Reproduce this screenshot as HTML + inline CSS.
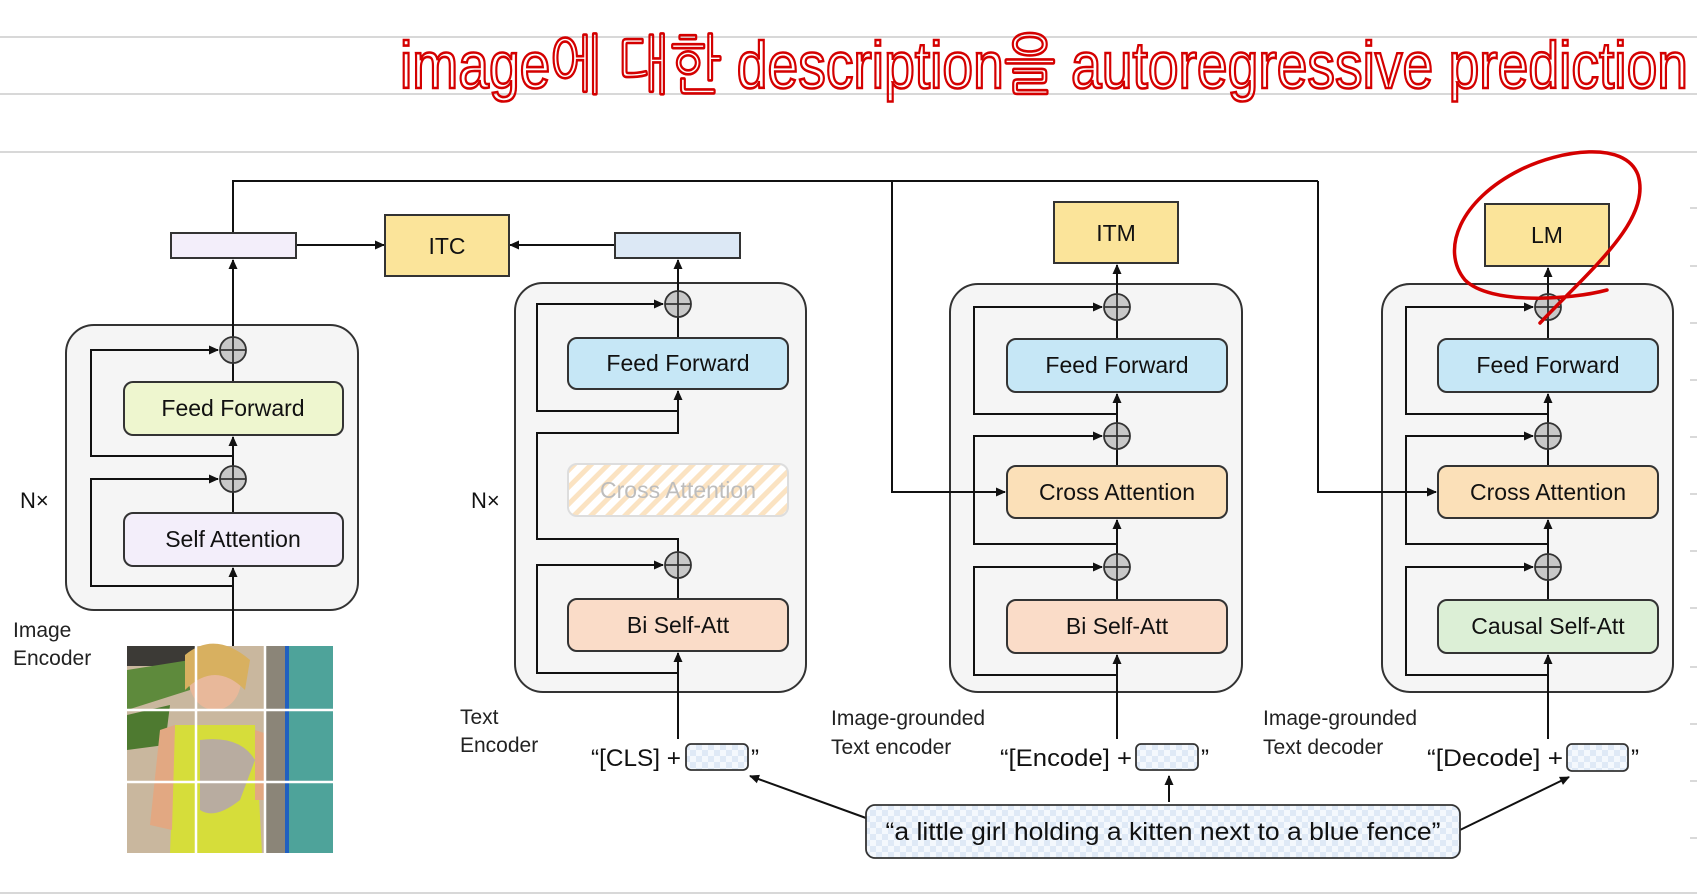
<!DOCTYPE html>
<html><head><meta charset="utf-8"><style>
html,body{margin:0;padding:0;background:#fff;}
svg{display:block;}
text{font-family:"Liberation Sans","DejaVu Sans",sans-serif;}
</style></head><body>
<svg width="1697" height="895" viewBox="0 0 1697 895" xmlns="http://www.w3.org/2000/svg">
<defs>
<marker id="a" markerWidth="10" markerHeight="10" refX="9" refY="5" orient="auto" markerUnits="userSpaceOnUse">
<path d="M0,0.5 L10,5 L0,9.5 z" fill="#111"/></marker>
<pattern id="chk" width="12" height="12" patternUnits="userSpaceOnUse">
<rect width="12" height="12" fill="#f4f8fd"/><rect width="6" height="6" fill="#dfe9f6"/><rect x="6" y="6" width="6" height="6" fill="#dfe9f6"/></pattern>
<pattern id="hat" width="12" height="12" patternUnits="userSpaceOnUse" patternTransform="rotate(45)">
<rect width="12" height="12" fill="#fff"/><rect width="5" height="12" fill="#fbe3c2"/></pattern>
<g id="plus"><circle r="13" fill="#c8c8c8" stroke="#333" stroke-width="1.8"/><path d="M-13,0H13M0,-13V13" stroke="#333" stroke-width="1.8"/></g>
</defs>

<!-- notebook lines -->
<g stroke="#d8d8d8" stroke-width="2">
<line x1="0" y1="37" x2="1697" y2="37"/><line x1="0" y1="94" x2="1697" y2="94"/><line x1="0" y1="152" x2="1697" y2="152"/><line x1="0" y1="893" x2="1697" y2="893"/>
</g>
<g stroke="#ccc" stroke-width="1.5">
<line x1="1690" y1="208" x2="1697" y2="208"/><line x1="1690" y1="266" x2="1697" y2="266"/><line x1="1690" y1="323" x2="1697" y2="323"/><line x1="1690" y1="380" x2="1697" y2="380"/><line x1="1690" y1="437" x2="1697" y2="437"/><line x1="1690" y1="494" x2="1697" y2="494"/><line x1="1690" y1="551" x2="1697" y2="551"/><line x1="1690" y1="608" x2="1697" y2="608"/><line x1="1690" y1="667" x2="1697" y2="667"/><line x1="1690" y1="724" x2="1697" y2="724"/><line x1="1690" y1="781" x2="1697" y2="781"/><line x1="1690" y1="838" x2="1697" y2="838"/>
</g>

<!-- handwriting -->
<text x="400" y="88" font-size="66" fill="none" stroke="#d40000" stroke-width="2.6" textLength="1288" lengthAdjust="spacingAndGlyphs" style="font-family:'Liberation Sans','NanumGothic',sans-serif">image에 대한 description을 autoregressive prediction</text>

<!-- top connector lines -->
<g fill="none" stroke="#111" stroke-width="2">
<path d="M233,233V181H1318"/>
<path d="M296,245H384" marker-end="url(#a)"/>
<path d="M615,245H510" marker-end="url(#a)"/>
</g>

<!-- ITC & small boxes -->
<rect x="171" y="233" width="125" height="25" fill="#f3eefa" stroke="#333" stroke-width="2"/>
<rect x="615" y="233" width="125" height="25" fill="#dce8f5" stroke="#333" stroke-width="2"/>
<rect x="385" y="215" width="124" height="61" fill="#fbe49a" stroke="#333" stroke-width="2"/>
<text x="447" y="254" font-size="23" text-anchor="middle" fill="#111">ITC</text>
<rect x="1054" y="202" width="124" height="61" fill="#fbe49a" stroke="#333" stroke-width="2"/>
<text x="1116" y="241" font-size="23" text-anchor="middle" fill="#111">ITM</text>
<rect x="1485" y="204" width="124" height="62" fill="#fbe49a" stroke="#333" stroke-width="2"/>
<text x="1547" y="243" font-size="23" text-anchor="middle" fill="#111">LM</text>

<!-- containers -->
<g fill="#f5f5f5" stroke="#333" stroke-width="2">
<rect x="66" y="325" width="292" height="285" rx="28"/>
<rect x="515" y="283" width="291" height="409" rx="28"/>
<rect x="950" y="284" width="292" height="408" rx="28"/>
<rect x="1382" y="284" width="291" height="408" rx="28"/>
</g>

<!-- cross attention feeds -->
<g fill="none" stroke="#111" stroke-width="2">
<path d="M1318,181V492H1436" marker-end="url(#a)"/>
<path d="M892,181V492H1005" marker-end="url(#a)"/>
</g>

<!-- Image encoder -->
<g fill="none" stroke="#111" stroke-width="2">
<path d="M233,716V568" marker-end="url(#a)"/>
<path d="M233,586H91V479H218" marker-end="url(#a)"/>
<path d="M233,456H91V350H218" marker-end="url(#a)"/>
<path d="M233,513V492"/><path d="M233,466V437" marker-end="url(#a)"/>
<path d="M233,382V363"/><path d="M233,337V260" marker-end="url(#a)"/>
</g>
<rect x="124" y="382" width="219" height="53" rx="9" fill="#eef6cf" stroke="#333" stroke-width="2"/>
<text x="233" y="416" font-size="23" text-anchor="middle" fill="#111">Feed Forward</text>
<rect x="124" y="513" width="219" height="53" rx="9" fill="#f3eefa" stroke="#333" stroke-width="2"/>
<text x="233" y="547" font-size="23" text-anchor="middle" fill="#111">Self Attention</text>
<use href="#plus" x="233" y="350"/><use href="#plus" x="233" y="479"/>
<text x="20" y="508" font-size="22" fill="#111">N×</text>
<text x="13" y="637" font-size="21" fill="#222">Image</text>
<text x="13" y="665" font-size="21" fill="#222">Encoder</text>

<!-- photo -->
<g>
<rect x="127" y="646" width="206" height="207" fill="#c9b79e"/>
<rect x="127" y="646" width="70" height="20" fill="#3c3a36"/>
<path d="M127,670 L190,660 L190,690 L127,710z" fill="#5e8a3c"/>
<path d="M127,715 L170,705 L165,745 L127,750z" fill="#4e7a30"/>
<ellipse cx="215" cy="680" rx="26" ry="30" fill="#e8b89a"/>
<path d="M185,655 Q215,630 250,660 L245,690 Q215,660 185,690z" fill="#d8b060"/>
<path d="M175,725 L255,725 L262,853 L170,853z" fill="#d6dd3a"/>
<path d="M160,730 L175,725 L172,830 L150,825z" fill="#e2a882"/>
<path d="M255,730 L270,735 L268,800 L255,800z" fill="#e2a882"/>
<path d="M200,740 Q240,735 255,760 L240,800 Q215,820 200,810z" fill="#b8aca0"/>
<rect x="265" y="646" width="22" height="207" fill="#8b8578"/>
<rect x="285" y="646" width="48" height="207" fill="#4ea39a"/>
<rect x="285" y="646" width="4" height="207" fill="#2060c0"/>
<g stroke="#fff" stroke-width="2.5"><line x1="196" y1="646" x2="196" y2="853"/><line x1="265" y1="646" x2="265" y2="853"/><line x1="127" y1="710" x2="333" y2="710"/><line x1="127" y1="782" x2="333" y2="782"/></g>
</g>

<!-- Text encoder -->
<g fill="none" stroke="#111" stroke-width="2">
<path d="M678,739V653" marker-end="url(#a)"/>
<path d="M678,673H537V565H663" marker-end="url(#a)"/>
<path d="M678,599V578"/>
<path d="M678,552V539H537V433H678V391" marker-end="url(#a)"/>
<path d="M678,411H537V304H663" marker-end="url(#a)"/>
<path d="M678,338V317"/><path d="M678,291V260" marker-end="url(#a)"/>
</g>
<rect x="568" y="338" width="220" height="51" rx="9" fill="#c6e7f6" stroke="#333" stroke-width="2"/>
<text x="678" y="371" font-size="23" text-anchor="middle" fill="#111">Feed Forward</text>
<rect x="568" y="464" width="220" height="52" rx="9" fill="url(#hat)" stroke="#ddd" stroke-width="2"/>
<text x="678" y="498" font-size="23" text-anchor="middle" fill="#bdbdbd">Cross Attention</text>
<rect x="568" y="599" width="220" height="52" rx="9" fill="#fadcc8" stroke="#333" stroke-width="2"/>
<text x="678" y="633" font-size="23" text-anchor="middle" fill="#111">Bi Self-Att</text>
<use href="#plus" x="678" y="304"/><use href="#plus" x="678" y="565"/>
<text x="471" y="508" font-size="22" fill="#111">N×</text>
<text x="460" y="724" font-size="21" fill="#222">Text</text>
<text x="460" y="752" font-size="21" fill="#222">Encoder</text>
<text x="591" y="766" font-size="24" fill="#111" textLength="90" lengthAdjust="spacingAndGlyphs">“[CLS] +</text>
<rect x="686" y="744" width="62" height="26" rx="5" fill="url(#chk)" stroke="#333" stroke-width="1.8"/>
<text x="751" y="766" font-size="24" fill="#111">”</text>

<!-- Image-grounded text encoder -->
<g fill="none" stroke="#111" stroke-width="2">
<path d="M1117,739V655" marker-end="url(#a)"/>
<path d="M1117,675H974V567H1102" marker-end="url(#a)"/>
<path d="M1117,600V580"/><path d="M1117,554V520" marker-end="url(#a)"/>
<path d="M1117,544H974V436H1102" marker-end="url(#a)"/>
<path d="M1117,466V449"/><path d="M1117,423V394" marker-end="url(#a)"/>
<path d="M1117,414H974V307H1102" marker-end="url(#a)"/>
<path d="M1117,339V320"/><path d="M1117,294V265" marker-end="url(#a)"/>
</g>
<rect x="1007" y="339" width="220" height="53" rx="9" fill="#c6e7f6" stroke="#333" stroke-width="2"/>
<text x="1117" y="373" font-size="23" text-anchor="middle" fill="#111">Feed Forward</text>
<rect x="1007" y="466" width="220" height="52" rx="9" fill="#fbe0b8" stroke="#333" stroke-width="2"/>
<text x="1117" y="500" font-size="23" text-anchor="middle" fill="#111">Cross Attention</text>
<rect x="1007" y="600" width="220" height="53" rx="9" fill="#fadcc8" stroke="#333" stroke-width="2"/>
<text x="1117" y="634" font-size="23" text-anchor="middle" fill="#111">Bi Self-Att</text>
<use href="#plus" x="1117" y="307"/><use href="#plus" x="1117" y="436"/><use href="#plus" x="1117" y="567"/>
<text x="831" y="725" font-size="21" fill="#222">Image-grounded</text>
<text x="831" y="754" font-size="21" fill="#222">Text encoder</text>
<text x="1000" y="766" font-size="24" fill="#111" textLength="132" lengthAdjust="spacingAndGlyphs">“[Encode] +</text>
<rect x="1136" y="744" width="62" height="26" rx="5" fill="url(#chk)" stroke="#333" stroke-width="1.8"/>
<text x="1201" y="766" font-size="24" fill="#111">”</text>

<!-- Decoder -->
<g fill="none" stroke="#111" stroke-width="2">
<path d="M1548,739V655" marker-end="url(#a)"/>
<path d="M1548,675H1406V567H1533" marker-end="url(#a)"/>
<path d="M1548,600V580"/><path d="M1548,554V520" marker-end="url(#a)"/>
<path d="M1548,544H1406V436H1533" marker-end="url(#a)"/>
<path d="M1548,466V449"/><path d="M1548,423V394" marker-end="url(#a)"/>
<path d="M1548,414H1406V307H1533" marker-end="url(#a)"/>
<path d="M1548,339V320"/><path d="M1548,294V268" marker-end="url(#a)"/>
</g>
<rect x="1438" y="339" width="220" height="53" rx="9" fill="#c6e7f6" stroke="#333" stroke-width="2"/>
<text x="1548" y="373" font-size="23" text-anchor="middle" fill="#111">Feed Forward</text>
<rect x="1438" y="466" width="220" height="52" rx="9" fill="#fbe0b8" stroke="#333" stroke-width="2"/>
<text x="1548" y="500" font-size="23" text-anchor="middle" fill="#111">Cross Attention</text>
<rect x="1438" y="600" width="220" height="53" rx="9" fill="#dcefd6" stroke="#333" stroke-width="2"/>
<text x="1548" y="634" font-size="23" text-anchor="middle" fill="#111">Causal Self-Att</text>
<use href="#plus" x="1548" y="307"/><use href="#plus" x="1548" y="436"/><use href="#plus" x="1548" y="567"/>
<text x="1263" y="725" font-size="21" fill="#222">Image-grounded</text>
<text x="1263" y="754" font-size="21" fill="#222">Text decoder</text>
<text x="1427" y="766" font-size="24" fill="#111" textLength="136" lengthAdjust="spacingAndGlyphs">“[Decode] +</text>
<rect x="1567" y="744" width="61" height="27" rx="5" fill="url(#chk)" stroke="#333" stroke-width="1.8"/>
<text x="1631" y="766" font-size="24" fill="#111">”</text>

<!-- caption -->
<g fill="none" stroke="#111" stroke-width="2">
<path d="M866,818L750,776" marker-end="url(#a)"/>
<path d="M1169,802V776" marker-end="url(#a)"/>
<path d="M1460,830L1569,777" marker-end="url(#a)"/>
</g>
<rect x="866" y="805" width="594" height="53" rx="9" fill="url(#chk)" stroke="#333" stroke-width="1.8"/>
<text x="1163" y="840" font-size="25" text-anchor="middle" fill="#111" textLength="555" lengthAdjust="spacingAndGlyphs">“a little girl holding a kitten next to a blue fence”</text>

<!-- red circle -->
<path d="M1540,323 C1590,270 1652,220 1638,175 C1625,140 1560,150 1520,170 C1460,200 1440,250 1465,280 C1490,305 1570,300 1607,290" fill="none" stroke="#d40000" stroke-width="3.5" stroke-linecap="round"/>
</svg>
</body></html>
